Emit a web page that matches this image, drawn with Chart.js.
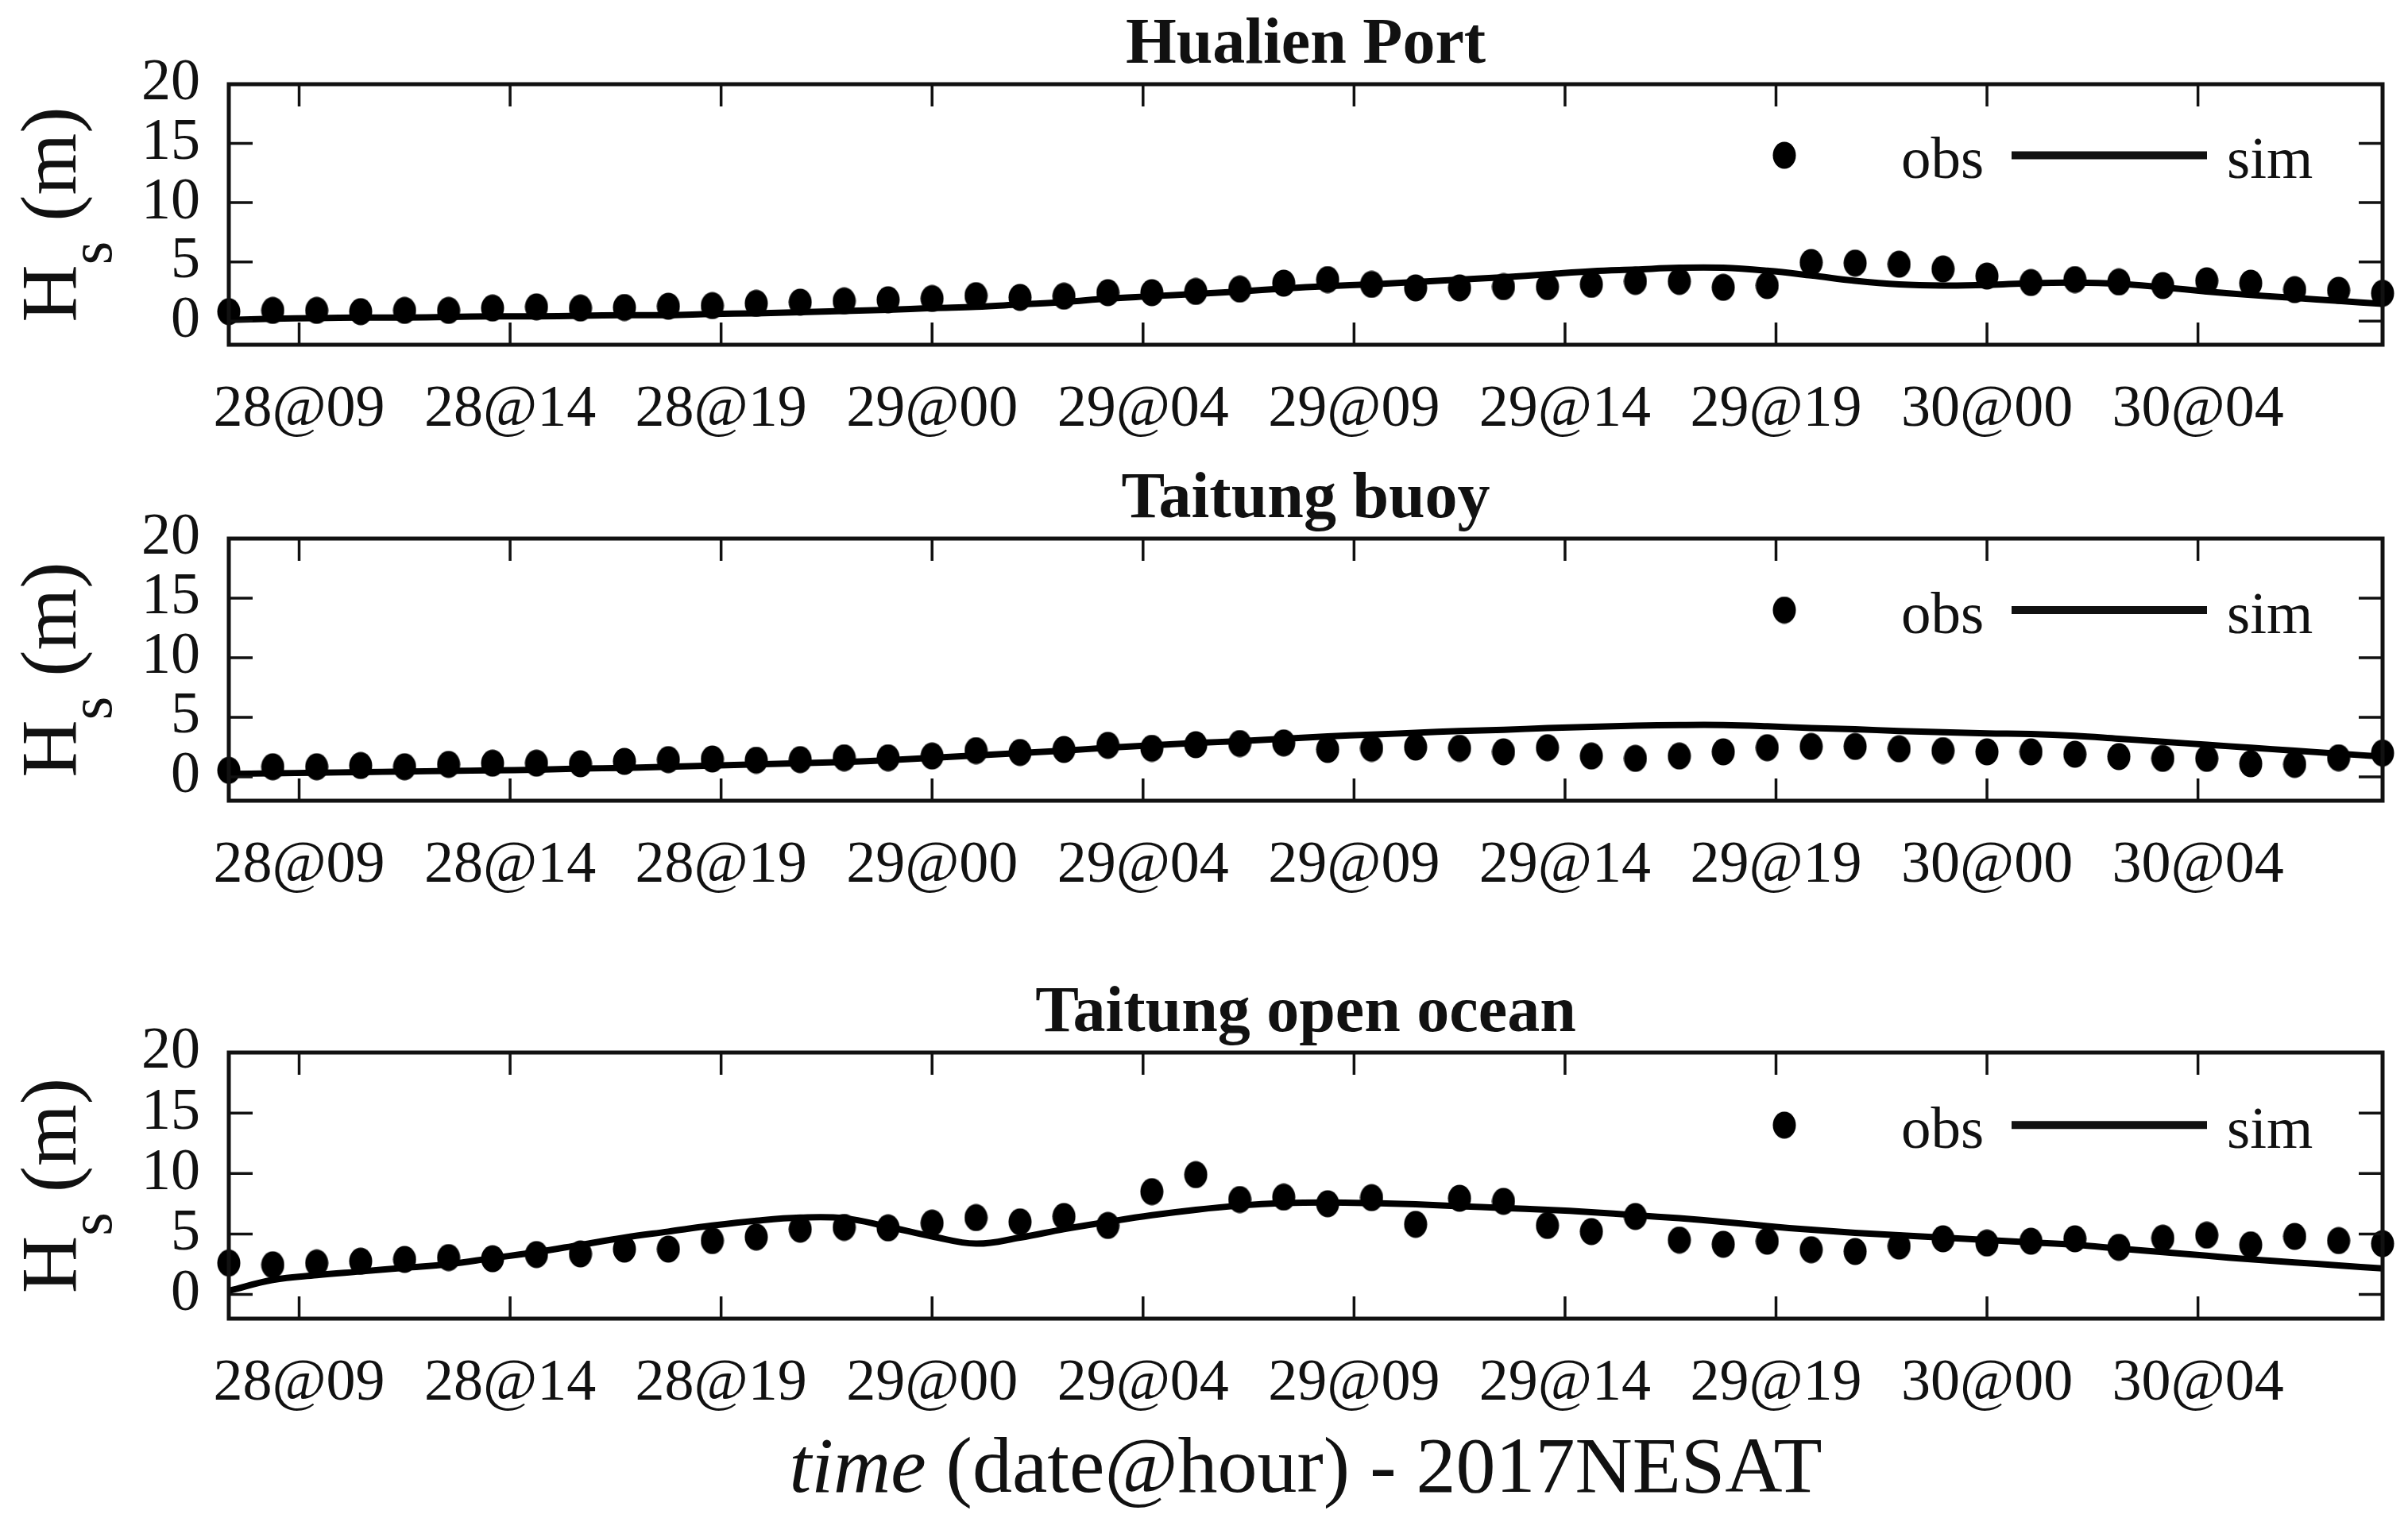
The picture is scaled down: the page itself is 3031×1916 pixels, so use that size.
<!DOCTYPE html>
<html lang="en">
<head>
<meta charset="UTF-8">
<title>Hs time series - 2017 NESAT</title>
<script src="https://cdn.jsdelivr.net/npm/chart.js@4.4.1/dist/chart.umd.min.js"></script>
<style>
  body { margin: 0; background: #fff; width: 3031px; height: 1916px; position: relative; overflow: hidden; }
  canvas { position: absolute; left: 0; }
  #xlabel { position: absolute; left: 288px; width: 2711px; top: 1795px; text-align: center;
            font: 100px "Liberation Serif"; line-height: 100px; color: #111; white-space: nowrap; }
</style>
</head>
<body>
<canvas id="c1"></canvas>
<canvas id="c2"></canvas>
<canvas id="c3"></canvas>
<div id="xlabel"><i>time</i> (date@hour) - 2017NESAT</div>

<script>
// hourly samples (index) and the date@hour tick labels
const hours = [0, 1, 2, 3, 4, 5, 6, 7, 8, 9, 10, 11, 12, 13, 14, 15, 16, 17, 18, 19,
               20, 21, 22, 23, 24, 25, 26, 27, 28, 29, 30, 31, 32, 33, 34, 35, 36, 37, 38, 39,
               40, 41, 42, 43, 44, 45, 46, 47, 48, 49];
const tickPos = [1.6, 6.4, 11.2, 16.0, 20.8, 25.6, 30.4, 35.2, 40.0, 44.8];
const tickLabels = ['28@09', '28@14', '28@19', '29@00', '29@04', '29@09', '29@14', '29@19', '30@00', '30@04'];
const yTicks = [0, 5, 10, 15, 20];

// Hualien Port
const hualienObs = [0.8, 0.9, 0.9, 0.8, 0.9, 0.9, 1.1, 1.2, 1.1, 1.15, 1.25, 1.3, 1.5, 1.6, 1.7, 1.8, 1.9, 2.15, 2.0, 2.1,
                    2.4, 2.4, 2.5, 2.7, 3.2, 3.5, 3.1, 2.8, 2.8, 2.9, 2.9, 3.1, 3.35, 3.35, 2.85, 3.0, 4.95, 4.9, 4.8, 4.4,
                    3.8, 3.25, 3.5, 3.3, 3.0, 3.4, 3.2, 2.65, 2.6, 2.35];
const hualienSim = [0.1, 0.2, 0.25, 0.3, 0.3, 0.35, 0.4, 0.4, 0.45, 0.5, 0.5, 0.6, 0.65, 0.75, 0.85, 0.95, 1.1, 1.2, 1.4, 1.6,
                    1.9, 2.1, 2.3, 2.5, 2.75, 2.95, 3.1, 3.3, 3.5, 3.7, 3.95, 4.2, 4.35, 4.5, 4.5, 4.25, 3.85, 3.4, 3.1, 3.0,
                    3.05, 3.2, 3.25, 3.15, 2.85, 2.5, 2.2, 1.95, 1.7, 1.45];

// Taitung buoy
const buoyObs = [0.55, 0.85, 0.85, 0.95, 0.85, 1.05, 1.15, 1.15, 1.1, 1.3, 1.45, 1.5, 1.4, 1.45, 1.6, 1.6, 1.75, 2.2, 2.05, 2.3,
                 2.65, 2.4, 2.7, 2.8, 2.85, 2.3, 2.4, 2.5, 2.4, 2.1, 2.45, 1.75, 1.55, 1.75, 2.1, 2.45, 2.55, 2.55, 2.35, 2.2,
                 2.1, 2.1, 1.9, 1.7, 1.55, 1.55, 1.1, 1.05, 1.6, 2.0];
const buoySim = [0.25, 0.3, 0.35, 0.4, 0.45, 0.5, 0.55, 0.6, 0.7, 0.75, 0.85, 0.95, 1.05, 1.15, 1.25, 1.4, 1.6, 1.8, 2.0, 2.2,
                 2.45, 2.65, 2.85, 3.0, 3.2, 3.4, 3.55, 3.7, 3.85, 3.95, 4.1, 4.2, 4.3, 4.35, 4.35, 4.25, 4.1, 4.0, 3.85, 3.75,
                 3.65, 3.6, 3.45, 3.2, 2.95, 2.7, 2.45, 2.2, 1.95, 1.7];

// Taitung open ocean
const oceanObs = [2.6, 2.45, 2.6, 2.75, 2.9, 3.05, 2.95, 3.3, 3.35, 3.75, 3.75, 4.45, 4.75, 5.4, 5.55, 5.5, 5.9, 6.35, 6.0, 6.45,
                  5.7, 8.5, 9.9, 7.85, 8.05, 7.5, 8.0, 5.8, 7.95, 7.7, 5.7, 5.2, 6.45, 4.5, 4.15, 4.4, 3.7, 3.55, 4.0, 4.6,
                  4.25, 4.4, 4.6, 3.9, 4.65, 4.9, 4.1, 4.8, 4.45, 4.2];
const oceanSim = [0.3, 1.2, 1.6, 1.9, 2.2, 2.5, 3.0, 3.5, 4.1, 4.7, 5.2, 5.7, 6.1, 6.35, 6.3, 5.6, 4.8, 4.2, 4.7, 5.4,
                  6.0, 6.55, 7.0, 7.35, 7.55, 7.6, 7.55, 7.45, 7.3, 7.15, 7.0, 6.8, 6.55, 6.3, 6.0, 5.65, 5.35, 5.1, 4.9, 4.7,
                  4.5, 4.3, 4.1, 3.8, 3.5, 3.2, 2.9, 2.65, 2.4, 2.15];

const panels = [
  { id: 'c1', top: 0,    plotTop: 106,  plotBottom: 434,  title: 'Hualien Port',       obs: hualienObs, sim: hualienSim },
  { id: 'c2', top: 564,  plotTop: 678,  plotBottom: 1008, title: 'Taitung buoy',       obs: buoyObs,    sim: buoySim },
  { id: 'c3', top: 1138, plotTop: 1325, plotBottom: 1660, title: 'Taitung open ocean', obs: oceanObs,   sim: oceanSim }
];

const SERIF = '"Liberation Serif", "Times New Roman", serif';
const INK = '#111';
const X_AXIS_H = 130;

// slightly tall filled marker, like the original figure's dots
const dot = document.createElement('canvas');
dot.width = 30; dot.height = 35;
(function () {
  const c = dot.getContext('2d');
  c.fillStyle = '#000';
  c.beginPath();
  c.ellipse(15, 17.5, 14.5, 17, 0, 0, Math.PI * 2);
  c.fill();
})();

// box, inward ticks, legend, title and y label drawn around the chart area
const framePlugin = {
  id: 'frame',
  afterDraw(chart, args, opts) {
    const { ctx, chartArea: a } = chart;
    const xs = chart.scales.x, ys = chart.scales.y;
    ctx.save();
    ctx.strokeStyle = INK;
    ctx.fillStyle = INK;

    // inward ticks on all four sides
    ctx.lineWidth = 3.5;
    ctx.beginPath();
    tickPos.forEach(v => {
      const px = xs.getPixelForValue(v);
      ctx.moveTo(px, a.bottom); ctx.lineTo(px, a.bottom - 28);
      ctx.moveTo(px, a.top);    ctx.lineTo(px, a.top + 28);
    });
    yTicks.forEach(v => {
      const py = ys.getPixelForValue(v);
      ctx.moveTo(a.left, py);  ctx.lineTo(a.left + 30, py);
      ctx.moveTo(a.right, py); ctx.lineTo(a.right - 30, py);
    });
    ctx.stroke();

    // box
    ctx.lineWidth = 5;
    ctx.strokeRect(a.left, a.top, a.right - a.left, a.bottom - a.top);

    // legend: obs dot, sim line
    const ly = ys.getPixelForValue(14);
    ctx.drawImage(dot, a.right - 753 - 15, ly - 17.5);
    ctx.lineWidth = 10;
    ctx.beginPath();
    ctx.moveTo(a.right - 467, ly);
    ctx.lineTo(a.right - 221, ly);
    ctx.stroke();
    ctx.font = '75px ' + SERIF;
    ctx.textAlign = 'left';
    ctx.textBaseline = 'alphabetic';
    ctx.fillText('obs', a.right - 606, ly + 29);
    ctx.fillText('sim', a.right - 196, ly + 29);

    // panel title
    ctx.font = 'bold 82px ' + SERIF;
    ctx.textAlign = 'center';
    ctx.fillText(opts.title, (a.left + a.right) / 2, a.top - 27);

    // y label: H_s (m)
    const big = '100px ' + SERIF, small = '76px ' + SERIF;
    ctx.font = big;
    const wH = ctx.measureText('H').width;
    const wRest = ctx.measureText(' (m)').width;
    ctx.font = small;
    const wS = ctx.measureText('s').width;
    const total = wH + wS + wRest;
    ctx.translate(95, (a.top + a.bottom) / 2);
    ctx.rotate(-Math.PI / 2);
    ctx.textAlign = 'left';
    ctx.font = big;
    ctx.fillText('H', -total / 2, 0);
    ctx.font = small;
    ctx.fillText('s', -total / 2 + wH, 45);
    ctx.font = big;
    ctx.fillText(' (m)', -total / 2 + wH + wS, 0);
    ctx.restore();
  }
};

panels.forEach(p => {
  const cv = document.getElementById(p.id);
  const h = p.plotBottom - p.top + X_AXIS_H;
  cv.width = 3031;
  cv.height = h;
  cv.style.top = p.top + 'px';

  new Chart(cv, {
    type: 'line',
    data: {
      datasets: [
        {
          label: 'obs',
          data: hours.map((t, i) => ({ x: t, y: p.obs[i] })),
          showLine: false,
          pointStyle: dot,
          pointRadius: 17,
          pointHoverRadius: 17,
          pointBackgroundColor: '#000',
          pointBorderWidth: 0,
          clip: false
        },
        {
          label: 'sim',
          data: hours.map((t, i) => ({ x: t, y: p.sim[i] })),
          borderColor: '#000',
          borderWidth: 8,
          pointRadius: 0,
          tension: 0.4,
          fill: false
        }
      ]
    },
    options: {
      responsive: false,
      animation: false,
      devicePixelRatio: 1,
      layout: { padding: { left: 0, right: 32, top: p.plotTop - p.top, bottom: 0 } },
      plugins: {
        legend: { display: false },
        tooltip: { enabled: false },
        frame: { title: p.title }
      },
      scales: {
        x: {
          type: 'linear',
          min: 0,
          max: 49,
          grid: { display: false, drawTicks: false },
          border: { display: false },
          afterBuildTicks: s => { s.ticks = tickPos.map(v => ({ value: v })); },
          afterFit: s => { s.height = X_AXIS_H; },
          ticks: {
            autoSkip: false,
            maxRotation: 0,
            padding: 38,
            color: INK,
            font: { family: SERIF, size: 74 },
            callback: (v, i) => tickLabels[i]
          }
        },
        y: {
          min: -2,
          max: 20,
          grid: { display: false, drawTicks: false },
          border: { display: false },
          afterBuildTicks: s => { s.ticks = yTicks.map(v => ({ value: v })); },
          afterFit: s => { s.width = 288; },
          ticks: {
            autoSkip: false,
            padding: 36,
            color: INK,
            font: { family: SERIF, size: 74 }
          }
        }
      }
    },
    plugins: [framePlugin]
  });
});
</script>
</body>
</html>
